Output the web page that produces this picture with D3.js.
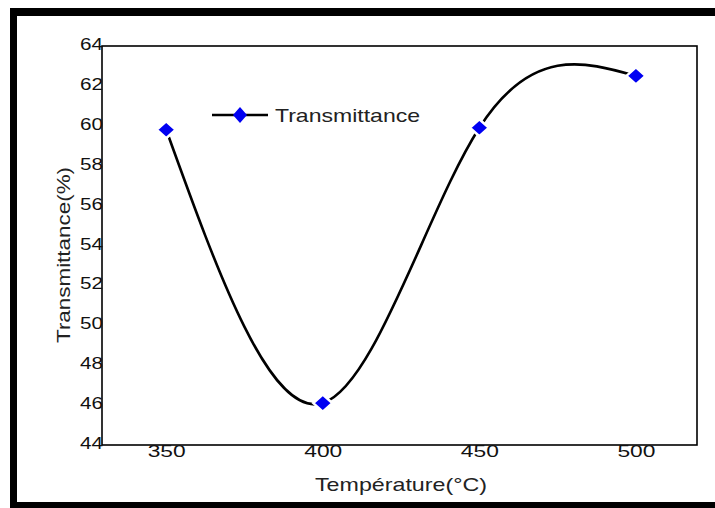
<!DOCTYPE html>
<html>
<head>
<meta charset="utf-8">
<script src="https://cdn.jsdelivr.net/npm/d3@7/dist/d3.min.js"></script>
<style>
  html, body { margin: 0; padding: 0; background: #fff; }
  svg { display: block; font-family: "Liberation Sans", Arial, sans-serif; }
</style>
</head>
<body>
<svg id="chart" width="715" height="508"></svg>
<script>
// Transmittance measured at each annealing temperature
const temperatures = [350, 400, 450, 500];
const transmittance = [59.8, 46.1, 59.9, 62.5];
const xTickValues = [350, 400, 450, 500];
const yTickValues = [44, 46, 48, 50, 52, 54, 56, 58, 60, 62, 64];
const seriesName = "Transmittance";
const xTitle = "Température(°C)";
const yTitle = "Transmittance(%)";

const svg = d3.select("#chart");
const W = 715, H = 508;
const plot = { left: 102, right: 697, top: 46, bottom: 445 };

svg.append("rect").attr("width", W).attr("height", H).attr("fill", "#fff");

// Heavy black frame (left, top, bottom)
const frame = svg.append("g").attr("fill", "#000");
frame.append("rect").attr("x", 10).attr("y", 8).attr("width", W - 10).attr("height", 8);
frame.append("rect").attr("x", 10).attr("y", 8).attr("width", 7).attr("height", H - 8);
frame.append("rect").attr("x", 10).attr("y", 502).attr("width", W - 10).attr("height", 6);

const x = d3.scaleLinear().domain([329.5, 519.5]).range([plot.left, plot.right]);
const y = d3.scaleLinear().domain([44, 64]).range([plot.bottom, plot.top]);

// Plot box
svg.append("rect")
  .attr("x", plot.left).attr("y", plot.top)
  .attr("width", plot.right - plot.left).attr("height", plot.bottom - plot.top)
  .attr("fill", "none").attr("stroke", "#000").attr("stroke-width", 1.6);

// Axes (labels only, no tick marks); digits are drawn wide and tight
const yAxis = svg.append("g")
  .attr("transform", `translate(${plot.left + 1},0)`)
  .call(d3.axisLeft(y).tickValues(yTickValues).tickSize(0).tickPadding(0).tickFormat(d3.format("d")));
yAxis.select(".domain").remove();
yAxis.selectAll("text")
  .attr("font-size", 16).attr("fill", "#111").attr("font-family", "Liberation Sans, Arial, sans-serif")
  .attr("dy", "0.22em")
  .attr("textLength", d => String(d).length === 2 ? 23 : 37)
  .attr("lengthAdjust", "spacingAndGlyphs");

const xAxis = svg.append("g")
  .attr("transform", `translate(0,${plot.bottom})`)
  .call(d3.axisBottom(x).tickValues(xTickValues).tickSize(0).tickPadding(1).tickFormat(d3.format("d")));
xAxis.select(".domain").remove();
xAxis.selectAll("text")
  .attr("font-size", 16).attr("fill", "#111").attr("font-family", "Liberation Sans, Arial, sans-serif")
  .attr("textLength", 38)
  .attr("lengthAdjust", "spacingAndGlyphs");

// Axis titles
svg.append("text")
  .attr("x", 401).attr("y", 491)
  .attr("text-anchor", "middle")
  .attr("font-size", 19).attr("fill", "#222")
  .attr("textLength", 172).attr("lengthAdjust", "spacingAndGlyphs")
  .text(xTitle);

svg.append("text")
  .attr("transform", "translate(70,255) rotate(-90)")
  .attr("text-anchor", "middle")
  .attr("font-size", 19).attr("fill", "#222")
  .attr("textLength", 176).attr("lengthAdjust", "spacingAndGlyphs")
  .text(yTitle);

// Smooth curve through the measurements
const pts = temperatures.map((t, i) => [t, transmittance[i]]);
const line = d3.line().x(d => x(d[0])).y(d => y(d[1])).curve(d3.curveNatural);
svg.append("path")
  .attr("d", line(pts))
  .attr("fill", "none").attr("stroke", "#000").attr("stroke-width", 2.6);

// Diamond markers
const diamond = (hw, hh) => `M0,${-hh}L${hw},0L0,${hh}L${-hw},0Z`;
svg.append("g").selectAll("path")
  .data(pts)
  .join("path")
  .attr("transform", d => `translate(${x(d[0])},${y(d[1])})`)
  .attr("d", diamond(9.5, 8.5))
  .attr("fill", "#0000f2")
  .attr("stroke", "#fff").attr("stroke-width", 2.5);

// Legend
const legend = svg.append("g").attr("transform", "translate(212,115)");
legend.append("line").attr("x1", 0).attr("x2", 56).attr("y1", 0).attr("y2", 0)
  .attr("stroke", "#000").attr("stroke-width", 2.6);
legend.append("path").attr("transform", "translate(28,0)")
  .attr("d", diamond(7, 8)).attr("fill", "#0000f2");
legend.append("text")
  .attr("x", 63).attr("y", 7)
  .attr("font-size", 19).attr("fill", "#222")
  .attr("textLength", 145).attr("lengthAdjust", "spacingAndGlyphs")
  .text(seriesName);
</script>
</body>
</html>
